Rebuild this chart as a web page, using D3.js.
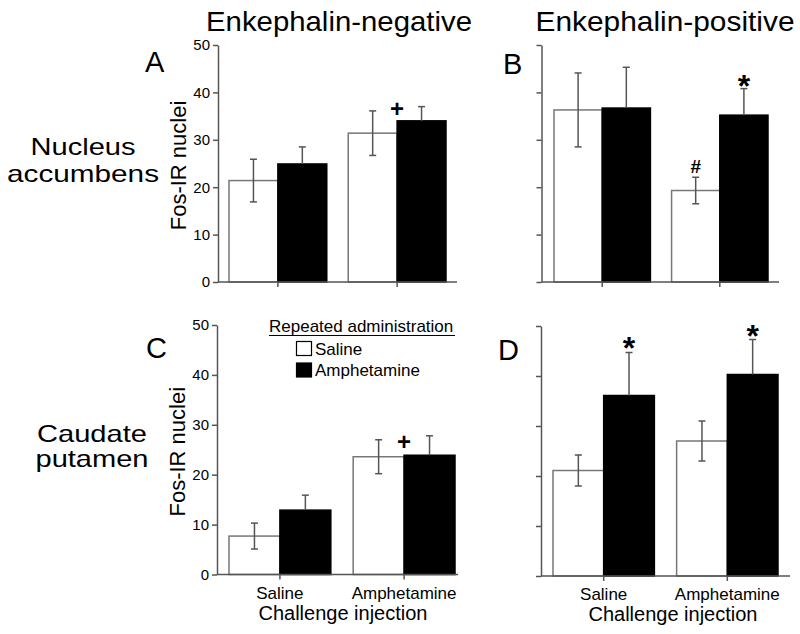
<!DOCTYPE html>
<html><head><meta charset="utf-8">
<script src="https://cdn.jsdelivr.net/npm/d3@7"></script>
<style>body{margin:0;background:#fff} svg{display:block;font-family:"Liberation Sans",Arial,Helvetica,sans-serif}</style>
</head><body><svg id="c" width="800" height="634"></svg>
<script>
// ---- data ----
const challenge = ["Saline", "Amphetamine"];          // challenge injection (x groups)
const repeated = ["Saline", "Amphetamine"];           // repeated administration (series)
const yTicks = [0, 10, 20, 30, 40, 50];
const columnTitles = ["Enkephalin-negative", "Enkephalin-positive"];
const rowTitles = [["Nucleus", "accumbens"], ["Caudate", "putamen"]];
const yLabel = "Fos-IR nuclei";
const xTitle = "Challenge injection";
const legendTitle = "Repeated administration";

const A_saline = [21.4, 31.4], A_amph = [24.9, 34.0];
const A_salineErr = [4.5, 4.7], A_amphErr = [3.6, 3.0];
const B_saline = [36.3, 19.3], B_amph = [36.7, 35.2];
const B_salineErr = [7.8, 2.8], B_amphErr = [8.6, 5.6];
const C_saline = [7.7, 23.6], C_amph = [12.9, 23.9];
const C_salineErr = [2.6, 3.4], C_amphErr = [3.0, 3.9];
const D_saline = [21.1, 27.0], D_amph = [36.1, 40.3];
const D_salineErr = [3.1, 4.0], D_amphErr = [8.6, 7.0];

const annPanel = ["A", "B", "B", "C", "D", "D"];
const annGroup = ["Amphetamine", "Amphetamine", "Amphetamine", "Amphetamine", "Saline", "Amphetamine"];
const annSeries = [null, "Saline", "Amphetamine", null, "Amphetamine", "Amphetamine"];
const annSymbol = ["+", "#", "*", "+", "*", "*"];
const annValue = [36.5, 24.3, 42.6, 26.6, 46.8, 49.2];

const panelData = {
  A: {saline: A_saline, amph: A_amph, salineErr: A_salineErr, amphErr: A_amphErr},
  B: {saline: B_saline, amph: B_amph, salineErr: B_salineErr, amphErr: B_amphErr},
  C: {saline: C_saline, amph: C_amph, salineErr: C_salineErr, amphErr: C_amphErr},
  D: {saline: D_saline, amph: D_amph, salineErr: D_salineErr, amphErr: D_amphErr}
};

// ---- layout ----
const layout = {
  A: {axisX: 218, endX: 457, y0: 282, y50: 45, barL: 229, barR: 446, tickLabels: true, xLabels: false, letter: [145, 72]},
  B: {axisX: 541.5, endX: 779, y0: 282, y50: 45, barL: 554, barR: 768, tickLabels: false, xLabels: false, letter: [503, 74]},
  C: {axisX: 217, endX: 458, y0: 574.5, y50: 325, barL: 229, barR: 455, tickLabels: true, xLabels: true, xTitleX: 343, letter: [146, 358]},
  D: {axisX: 541, endX: 790, y0: 576, y50: 326, barL: 553, barR: 778, tickLabels: false, xLabels: true, xTitleX: 673, letter: [498, 360]}
};
const GRAY = "#555", OUT = "#777";
const svg = d3.select("#c");

Object.keys(layout).forEach(id => {
  const L = layout[id], P = panelData[id];
  const g = svg.append("g");
  const y = d3.scaleLinear().domain([0, 50]).range([L.y0, L.y50]);
  const x = d3.scaleBand().domain(challenge).range([L.barL, L.barR]).paddingInner(0.18).paddingOuter(0);
  const xs = d3.scaleBand().domain(repeated).range([0, x.bandwidth()]);

  // y axis
  const ax = g.append("g").attr("transform", `translate(${L.axisX},0)`)
    .call(d3.axisLeft(y).tickValues(yTicks).tickSize(5).tickSizeOuter(0).tickPadding(3)
      .tickFormat(L.tickLabels ? d3.format("d") : () => ""));
  ax.select(".domain").attr("stroke", GRAY).attr("stroke-width", 1.5);
  ax.selectAll(".tick line").attr("stroke", GRAY).attr("stroke-width", 1.5);
  ax.selectAll(".tick text").attr("font-size", 15).attr("fill", "#000")
    .attr("font-family", "Liberation Sans, Arial, sans-serif");

  // bars
  const rows = [];
  challenge.forEach((c, i) => {
    rows.push({c, s: "Saline", v: P.saline[i], e: P.salineErr[i]});
    rows.push({c, s: "Amphetamine", v: P.amph[i], e: P.amphErr[i]});
  });
  g.selectAll("rect.bar").data(rows).join("rect")
    .attr("x", d => x(d.c) + xs(d.s))
    .attr("y", d => y(d.v))
    .attr("width", xs.bandwidth())
    .attr("height", d => y(0) - y(d.v))
    .attr("fill", d => d.s === "Saline" ? "#fff" : "#000")
    .attr("stroke", d => d.s === "Saline" ? OUT : "#000")
    .attr("stroke-width", 1.5);

  // error bars
  const cap = 3.5;
  rows.forEach(d => {
    const cx = x(d.c) + xs(d.s) + xs.bandwidth() / 2;
    const top = y(d.v + d.e);
    const bot = d.s === "Saline" ? y(d.v - d.e) : y(d.v);
    g.append("line").attr("x1", cx).attr("x2", cx).attr("y1", top).attr("y2", bot)
      .attr("stroke", GRAY).attr("stroke-width", 1.5);
    g.append("line").attr("x1", cx - cap).attr("x2", cx + cap).attr("y1", top).attr("y2", top)
      .attr("stroke", GRAY).attr("stroke-width", 1.5);
    if (d.s === "Saline") {
      g.append("line").attr("x1", cx - cap).attr("x2", cx + cap).attr("y1", bot).attr("y2", bot)
        .attr("stroke", GRAY).attr("stroke-width", 1.5);
    }
  });

  // baseline and x ticks
  g.append("line").attr("x1", L.axisX).attr("x2", L.endX).attr("y1", y(0)).attr("y2", y(0))
    .attr("stroke", GRAY).attr("stroke-width", 1.5);
  challenge.forEach(c => {
    const cx = x(c) + x.bandwidth() / 2;
    g.append("line").attr("x1", cx).attr("x2", cx).attr("y1", y(0)).attr("y2", y(0) + 5)
      .attr("stroke", GRAY).attr("stroke-width", 1.5);
    if (L.xLabels) {
      g.append("text").attr("x", cx).attr("y", y(0) + 24).attr("text-anchor", "middle")
        .attr("font-size", 17).text(c);
    }
  });
  if (L.xLabels) {
    g.append("text").attr("x", L.xTitleX).attr("y", y(0) + 45).attr("text-anchor", "middle")
      .attr("font-size", 20).text(xTitle);
  }
  if (L.tickLabels) {
    g.append("text").attr("transform", `translate(${L.axisX - 32},${(L.y0 + L.y50) / 2 + 2}) rotate(-90)`)
      .attr("text-anchor", "middle").attr("font-size", 22).text(yLabel);
  }
  // panel letter
  g.append("text").attr("x", L.letter[0]).attr("y", L.letter[1]).attr("font-size", 29).text(id);

  // annotations
  annPanel.forEach((p, i) => {
    if (p !== id) return;
    let cx = x(annGroup[i]) + x.bandwidth() / 2;
    if (annSeries[i]) cx = x(annGroup[i]) + xs(annSeries[i]) + xs.bandwidth() / 2;
    const cy = y(annValue[i]);
    const sym = annSymbol[i];
    let fs, off;
    if (sym === "*") { fs = 32; off = 0.52 * fs; }
    else if (sym === "+") { fs = 24; off = 0.34 * fs; }
    else { fs = 19; off = 0.35 * fs; }
    g.append("text").attr("x", cx).attr("y", cy + off).attr("text-anchor", "middle")
      .attr("font-size", fs).attr("font-weight", "bold").text(sym);
  });
});

// column titles
svg.append("text").attr("x", 339).attr("y", 31).attr("text-anchor", "middle").attr("font-size", 28)
  .attr("textLength", 266).attr("lengthAdjust", "spacingAndGlyphs").text(columnTitles[0]);
svg.append("text").attr("x", 665).attr("y", 31).attr("text-anchor", "middle").attr("font-size", 28)
  .attr("textLength", 259).attr("lengthAdjust", "spacingAndGlyphs").text(columnTitles[1]);
// row titles
const rowPos = [[83, 155, 182], [92, 442, 467]];
const rowWidths = [[105, 152], [110, 113]];
rowTitles.forEach((r, i) => {
  r.forEach((t, j) => {
    svg.append("text").attr("x", rowPos[i][0]).attr("y", rowPos[i][1 + j]).attr("text-anchor", "middle")
      .attr("font-size", 24).attr("textLength", rowWidths[i][j]).attr("lengthAdjust", "spacingAndGlyphs").text(t);
  });
});

// legend
const lg = svg.append("g");
lg.append("text").attr("x", 269).attr("y", 332).attr("font-size", 17).text(legendTitle);
lg.append("line").attr("x1", 269).attr("x2", 455).attr("y1", 335.5).attr("y2", 335.5).attr("stroke", "#000").attr("stroke-width", 1);
repeated.forEach((s, i) => {
  lg.append("rect").attr("x", 296.5).attr("y", 341.5 + i * 21.5).attr("width", 15).attr("height", 14)
    .attr("fill", s === "Saline" ? "#fff" : "#000").attr("stroke", "#000").attr("stroke-width", 1.2);
  lg.append("text").attr("x", 315).attr("y", 354.5 + i * 21.5).attr("font-size", 17).text(s);
});
</script></body></html>
